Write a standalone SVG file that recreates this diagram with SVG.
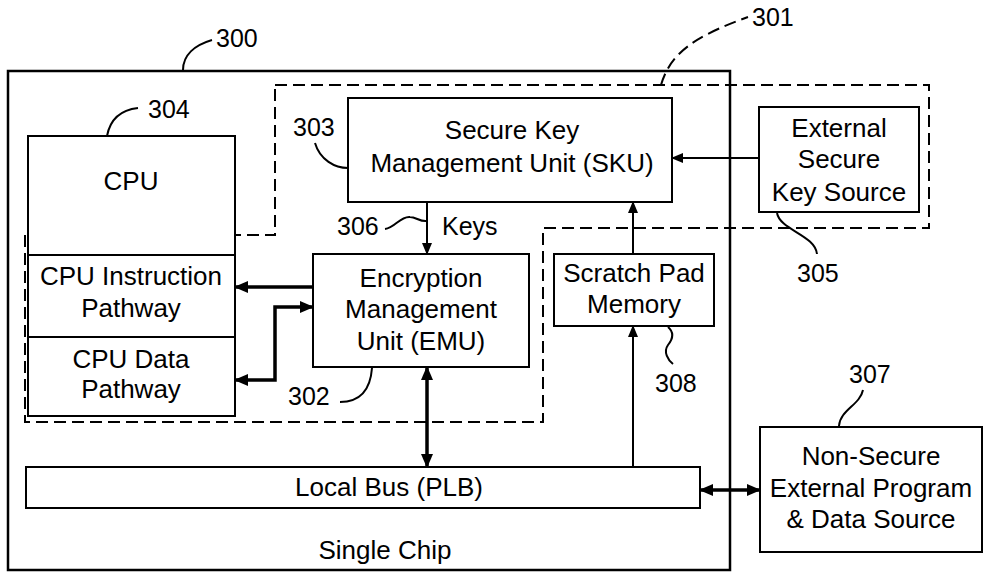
<svg xmlns="http://www.w3.org/2000/svg" width="987" height="581" viewBox="0 0 987 581">
<defs>
<style>
.box{fill:#fff;stroke:#000;stroke-width:2}
.t{font-family:"Liberation Sans",Arial,sans-serif;font-size:26px;fill:#000;text-anchor:middle}
.n{font-family:"Liberation Sans",Arial,sans-serif;font-size:25px;fill:#000}
.lead{fill:none;stroke:#000;stroke-width:2}
.dash{fill:none;stroke:#000;stroke-width:2;stroke-dasharray:12 6}
.thin{fill:none;stroke:#000;stroke-width:2}
.thick{fill:none;stroke:#000;stroke-width:3.5}
</style>
<marker id="ah" viewBox="0 0 14 12" refX="13" refY="6" markerWidth="14" markerHeight="12" orient="auto-start-reverse" markerUnits="userSpaceOnUse"><path d="M0,0 L14,6 L0,12 z" fill="#000"/></marker>
<marker id="ahs" viewBox="0 0 12 10" refX="11" refY="5" markerWidth="12" markerHeight="10" orient="auto-start-reverse" markerUnits="userSpaceOnUse"><path d="M0,0 L12,5 L0,10 z" fill="#000"/></marker>
</defs>
<rect width="987" height="581" fill="#fff"/>

<g id="chip">
<rect x="8" y="71" width="722" height="499" fill="none" stroke="#000" stroke-width="2.5"/>
<text class="t" x="385" y="559">Single Chip</text>
<path class="lead" d="M183,70 C183,55 195,45 212,40"/>
<text class="n" x="216" y="47">300</text>
</g>

<g id="secure-region">
<path class="dash" d="M275,85 H929 V228 H543 V422 H25 V235 H275 Z"/>
<path class="dash" d="M661,85 C670,55 690,38 748,17"/>
<text class="n" x="752" y="26">301</text>
</g>

<g id="cpu">
<rect class="box" x="28" y="136" width="207" height="280"/>
<line class="thin" x1="28" y1="255" x2="235" y2="255"/>
<line class="thin" x1="28" y1="337" x2="235" y2="337"/>
<text class="t" x="131" y="190">CPU</text>
<path class="lead" d="M107,136 C110,120 120,110 138,108"/>
<text class="n" x="148" y="118">304</text>
</g>

<g id="cpu-instruction">
<text class="t" x="131" y="285">CPU Instruction</text>
<text class="t" x="131" y="317">Pathway</text>
</g>

<g id="cpu-data">
<text class="t" x="131" y="368">CPU Data</text>
<text class="t" x="131" y="398">Pathway</text>
</g>

<g id="sku">
<rect class="box" x="348" y="98" width="324" height="104"/>
<text class="t" x="512" y="139">Secure Key</text>
<text class="t" x="512" y="172">Management Unit (SKU)</text>
<path class="lead" d="M315,143 C320,160 335,168 348,168"/>
<text class="n" x="293" y="136">303</text>
</g>

<g id="esks">
<rect class="box" x="759" y="107" width="160" height="105"/>
<text class="t" x="839" y="137">External</text>
<text class="t" x="839" y="168">Secure</text>
<text class="t" x="839" y="201">Key Source</text>
<path class="lead" d="M777,213 C780,230 815,235 817,254"/>
<text class="n" x="797" y="282">305</text>
</g>

<g id="emu">
<rect class="box" x="313" y="254" width="216" height="113"/>
<text class="t" x="421" y="287">Encryption</text>
<text class="t" x="421" y="318">Management</text>
<text class="t" x="421" y="350">Unit (EMU)</text>
<path class="lead" d="M340,402 C355,402 370,395 372,368"/>
<text class="n" x="288" y="405">302</text>
</g>

<g id="scratch">
<rect class="box" x="554" y="254" width="160" height="72"/>
<text class="t" x="634" y="282">Scratch Pad</text>
<text class="t" x="634" y="313">Memory</text>
<path class="lead" d="M668,327 C675,333 672,340 668,345 C663,352 668,360 673,364"/>
<text class="n" x="655" y="392">308</text>
</g>

<g id="bus">
<rect class="box" x="26" y="467" width="674" height="41"/>
<text class="t" x="389" y="496">Local Bus (PLB)</text>
</g>

<g id="nonsecure">
<rect class="box" x="760" y="427" width="222" height="125"/>
<text class="t" x="871" y="465">Non-Secure</text>
<text class="t" x="871" y="497">External Program</text>
<text class="t" x="871" y="528">&amp; Data Source</text>
<path class="lead" d="M863,390 C860,405 840,410 839,426"/>
<text class="n" x="849" y="383">307</text>
</g>

<g id="connectors">
<line class="thin" x1="427" y1="202" x2="427" y2="254" marker-end="url(#ahs)"/>
<path class="lead" d="M385,229 C395,228 400,216 410,217 C416,217 420,222 427,221"/>
<text class="n" x="337" y="235">306</text>
<text class="n" x="442" y="235">Keys</text>
<line class="thin" x1="759" y1="158" x2="672" y2="158" marker-end="url(#ahs)"/>
<line class="thin" x1="633" y1="466" x2="633" y2="326" marker-end="url(#ahs)"/>
<line class="thin" x1="633" y1="254" x2="633" y2="202" marker-end="url(#ahs)"/>
<line class="thick" x1="313" y1="287" x2="235" y2="287" marker-end="url(#ah)"/>
<path class="thick" d="M235,380 H275 V307 H313" marker-start="url(#ah)" marker-end="url(#ah)"/>
<line class="thick" x1="427" y1="367" x2="427" y2="467" marker-start="url(#ah)" marker-end="url(#ah)"/>
<line class="thick" x1="700" y1="490" x2="760" y2="490" marker-start="url(#ah)" marker-end="url(#ah)"/>
</g>
</svg>
